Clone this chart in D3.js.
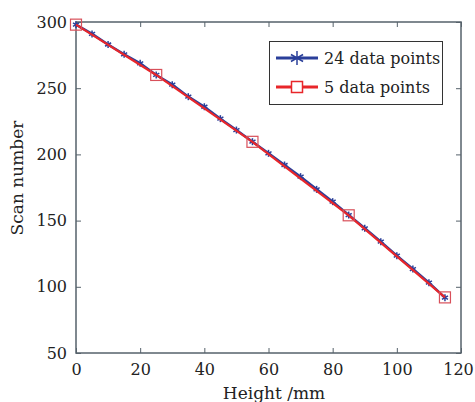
<!DOCTYPE html>
<html>
<head>
  <meta charset="utf-8">
  <style>
    body { margin: 0; background: #fff; }
    text { font-family: "DejaVu Serif", serif; fill: #222; }
  </style>
  <script src="https://cdn.jsdelivr.net/npm/d3@7/dist/d3.min.js"></script>
</head>
<body>
  <svg id="chart"></svg>
  <script>
    // 24 data points
    var heights24 = [0, 5, 10, 15, 20, 25, 30, 35, 40, 45, 50, 55, 60, 65, 70, 75, 80, 85, 90, 95, 100, 105, 110, 115];
    var scans24 = [298, 291, 283, 275.6, 268.8, 260, 252.7, 243.6, 236, 227, 218.4, 209.6, 200.8, 192, 183.2, 173.6, 164.3, 154.2, 144.2, 134.1, 123.5, 113.4, 103.1, 91.8];
    // 5 data points
    var heights5 = [0, 25, 55, 85, 115];
    var scans5 = [298, 260, 209.5, 154, 92];
    var xTicks = [0, 20, 40, 60, 80, 100, 120];
    var yTicks = [50, 100, 150, 200, 250, 300];
    var seriesNames = ['24 data points', '5 data points'];

    var width = 475, height = 402;
    var m = {left: 76, right: 14, top: 22, bottom: 49};

    var svg = d3.select('#chart')
      .attr('width', width)
      .attr('height', height);

    var x = d3.scaleLinear().domain([0, 120]).range([m.left, width - m.right]);
    var y = d3.scaleLinear().domain([50, 300]).range([height - m.bottom, m.top]);

    var axisColor = '#56626b';
    var tl = 5;

    // box frame
    svg.append('rect')
      .attr('x', x(0)).attr('y', y(300))
      .attr('width', x(120) - x(0)).attr('height', y(50) - y(300))
      .attr('fill', 'none').attr('stroke', axisColor).attr('stroke-width', 1.5);

    //inward ticks on all sides, like matlab
    function styleAxis(g) {
      g.select('.domain').remove();
      g.selectAll('.tick line').attr('stroke', axisColor);
      g.selectAll('.tick text').attr('fill', '#222');
    }

    var xAxis = svg.append('g')
      .attr('transform', 'translate(0,' + y(50) + ')')
      .call(d3.axisBottom(x).tickValues(xTicks).tickSize(-tl).tickPadding(tl + 6))
      .call(styleAxis);
    svg.append('g')
      .attr('transform', 'translate(0,' + y(300) + ')')
      .call(d3.axisTop(x).tickValues(xTicks).tickSize(-tl).tickFormat(''))
      .call(styleAxis);
    svg.append('g')
      .attr('transform', 'translate(' + x(0) + ',0)')
      .call(d3.axisLeft(y).tickValues(yTicks).tickSize(-tl).tickPadding(tl + 4))
      .call(styleAxis);
    svg.append('g')
      .attr('transform', 'translate(' + x(120) + ',0)')
      .call(d3.axisRight(y).tickValues(yTicks).tickSize(-tl).tickFormat(''))
      .call(styleAxis);

    svg.selectAll('.tick text').style('font-family', '"DejaVu Serif", serif').style('font-size', '16px');
    // keep the last label inside the window
    xAxis.selectAll('.tick text').filter(d => d == 120).attr('dx', -3);

    var blue = '#2a3f9a', red = '#e8262a';

    var line = d3.line().x(d => x(d[0])).y(d => y(d[1]));
    var pts24 = heights24.map((h, i) => [h, scans24[i]]);
    var pts5 = heights5.map((h, i) => [h, scans5[i]]);

    svg.append('path')
      .datum(pts24)
      .attr('d', line)
      .attr('fill', 'none').attr('stroke', blue).attr('stroke-width', 2.5);

    function star(g, cx, cy, r) {
      for (var k = 0; k < 3; k++) {
        var a = k * Math.PI / 3 + Math.PI / 2;
        g.append('line')
          .attr('x1', cx - r * Math.cos(a)).attr('y1', cy - r * Math.sin(a))
          .attr('x2', cx + r * Math.cos(a)).attr('y2', cy + r * Math.sin(a))
          .attr('stroke', blue).attr('stroke-width', 1.5);
      }
    }

    var stars = svg.append('g');
    pts24.forEach(d => star(stars, x(d[0]), y(d[1]), 3.5));

    svg.append('path')
      .datum(pts5)
      .attr('d', line)
      .attr('fill', 'none').attr('stroke', red).attr('stroke-width', 2.2);

    svg.selectAll('rect.sq')
      .data(pts5)
      .enter()
      .append('rect')
      .attr('class', 'sq')
      .attr('x', d => x(d[0]) - 5.5)
      .attr('y', d => y(d[1]) - 5.5)
      .attr('width', 11).attr('height', 11)
      .attr('fill', 'none').attr('stroke', '#d8505a').attr('stroke-width', 1.2);

    // legend
    var lg = svg.append('g');
    lg.append('rect')
      .attr('x', 269.5).attr('y', 41.5).attr('width', 173).attr('height', 63)
      .attr('fill', '#fff').attr('stroke', '#333').attr('stroke-width', 1);

    var rows = [{c: blue, y: 58}, {c: red, y: 87}];
    rows.forEach((r, i) => {
      lg.append('line')
        .attr('x1', 276).attr('x2', 318).attr('y1', r.y).attr('y2', r.y)
        .attr('stroke', r.c).attr('stroke-width', 3);
      if (i == 0) star(lg, 297, r.y, 7);
      else lg.append('rect')
        .attr('x', 291.5).attr('y', r.y - 5.5).attr('width', 11).attr('height', 11)
        .attr('fill', '#fff').attr('stroke', r.c).attr('stroke-width', 1.5);
      lg.append('text')
        .attr('x', 324).attr('y', r.y + 6)
        .style('font-size', '16px')
        .text(seriesNames[i]);
    });

    // axis labels
    svg.append('text')
      .attr('x', 274).attr('y', 399)
      .attr('text-anchor', 'middle')
      .style('font-size', '17px')
      .text('Height /mm');

    svg.append('text')
      .attr('transform', 'translate(23,178) rotate(-90)')
      .attr('text-anchor', 'middle')
      .style('font-size', '17px')
      .text('Scan number');
  </script>
</body>
</html>
